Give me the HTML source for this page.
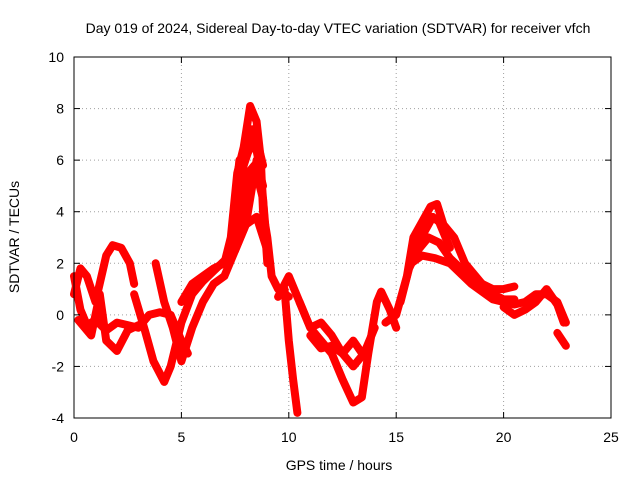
<!DOCTYPE html>
<html><head><meta charset="utf-8"><style>
body{margin:0;background:#fff;width:640px;height:480px;overflow:hidden;font-family:"Liberation Sans",sans-serif}
svg text{font-family:"Liberation Sans",sans-serif;font-size:14px;fill:#000}
</style></head><body>
<svg id="c" width="640" height="480">
<text x="338" y="33" text-anchor="middle">Day 019 of 2024, Sidereal Day-to-day VTEC variation (SDTVAR) for receiver vfch</text>
<text x="339" y="470" text-anchor="middle">GPS time / hours</text>
<text transform="translate(19,237) rotate(-90)" text-anchor="middle">SDTVAR / TECUs</text>
<g id="grid"></g><g id="marks"></g><g id="axes"></g>
</svg>
<script>
const xTicks=[0,5,10,15,20,25];
const yTicks=[-4,-2,0,2,4,6,8,10];
const trackA=[[0,0.8],[0.3,1.8],[0.6,1.5],[1,0.5],[1.5,2.3],[1.8,2.7],[2.2,2.6],[2.6,2],[2.8,1.2]];
const trackB=[[0,1.5],[0.3,0.2],[0.6,-0.4],[1,-0.2],[1.5,-0.6],[2,-0.3],[3,-0.5],[3.5,0],[4,0.1],[4.5,0],[5,-1],[5.3,-1.5]];
const trackC=[[0.2,-0.2],[0.8,-0.8],[1.2,0.8],[1.5,-1],[2,-1.4],[2.5,-0.6],[3,-0.4]];
const trackD=[[2.8,0.8],[3.3,-0.6],[3.7,-1.8],[4.2,-2.6],[4.5,-2],[5,-0.3],[5.5,0.8],[6,1.3],[6.5,1.7],[7,2.1],[7.5,2.5],[8,3.5],[8.5,3.8],[9,2.5]];
const trackE=[[3.8,2],[4.2,0.5],[4.6,-0.5],[5,-1.8],[5.5,-0.5],[6,0.5],[6.5,1.2],[7,1.5],[7.5,2.5],[8,3.5],[8.3,5],[8.5,6],[8.8,5]];
const trackF=[[5,0.5],[5.5,1.2],[6,1.5],[6.5,1.8],[7,2],[7.3,3],[7.6,5.5],[7.9,6.5],[8.2,8.1],[8.5,7.5],[8.7,6],[8.8,4],[9,3],[9.2,1.5],[9.5,1],[10,0.7]];
const trackG=[[7.5,2.5],[7.8,4],[8.1,5.5],[8.4,5.8],[8.8,4.5],[9,2]];
const trackG2=[[7.2,2.2],[7.6,4.5],[7.9,5.8],[8.1,6.3],[8.4,6.8],[8.7,5.5],[8.9,3.5]];
const trackG3=[[7.4,3.5],[7.7,6],[8,6.2],[8.3,7.2],[8.6,6.5],[8.8,5.8]];
const trackH=[[9.8,1],[10,-1],[10.2,-2.5],[10.4,-3.8]];
const trackI=[[9.5,0.7],[10,1.5],[10.4,0.7],[11,-0.5],[11.5,-0.3],[12,-0.8],[12.5,-1.5],[13,-2],[13.5,-1.5],[14,-0.5]];
const trackJ=[[10.5,0.5],[11,-0.5],[11.5,-1],[12,-1.5],[12.5,-2.5],[13,-3.4],[13.4,-3.2],[13.7,-1.5],[14.1,0.5],[14.3,0.9],[14.7,0.2],[15,-0.5]];
const trackK=[[11,-0.8],[11.5,-1.3],[12,-1.2],[12.5,-1.5],[13,-1],[13.5,-1.6]];
const trackL=[[14.5,-0.3],[15,0],[15.5,1.5],[15.8,3],[16.2,3.6],[16.6,4.2],[16.9,4.3],[17.2,3.5],[17.7,3],[18.2,2],[19,1.2],[19.5,0.8],[20,0.6],[20.5,0.6]];
const trackL2=[[15.9,2.5],[16.3,3.2],[16.7,3.8],[17,3.6],[17.5,2.6]];
const trackM=[[15.2,0.5],[15.6,1.8],[16,2.5],[16.5,3],[17,2.8],[17.5,2.2],[18,1.8],[18.5,1.5],[19,1.2],[19.5,1],[20,1],[20.5,1.1]];
const trackN=[[15.7,2],[16.2,2.3],[16.8,2.2],[17.5,2],[18.5,1.2],[19.5,0.6],[20,0.5],[20.5,0.4],[21,0.5],[21.5,0.8],[22,0.8],[22.5,0.5],[22.9,-0.3]];
const trackO=[[20,0.3],[20.5,0],[21,0.2],[21.5,0.5],[22,1],[22.5,0.4],[22.8,-0.3]];
const trackP=[[22.5,-0.7],[22.9,-1.2]];
const tracks=[trackA,trackB,trackC,trackD,trackE,trackF,trackG,trackG2,trackG3,trackH,trackI,trackJ,trackK,trackL,trackL2,trackM,trackN,trackO,trackP];
const L=74,R=611,T=57,B=418;
const sx=v=>L+(v-0)/25*(R-L);
const sy=v=>B-(v+4)/14*(B-T);
const NS="http://www.w3.org/2000/svg";
const grid=document.getElementById('grid'),axes=document.getElementById('axes'),marks=document.getElementById('marks');
function mk(tag,attrs,parent){const e=document.createElementNS(NS,tag);for(const k in attrs)e.setAttribute(k,attrs[k]);parent.appendChild(e);return e;}
xTicks.forEach(t=>{
 if(t>0&&t<25){const g=mk('line',{x1:sx(t),x2:sx(t),y1:T,y2:B,stroke:'#a0a0a0','stroke-dasharray':'1,3'},grid);
 
 }
 const tk=mk('text',{x:sx(t),y:B+24,'text-anchor':'middle'},axes);tk.textContent=t;
 
 
 mk('line',{x1:sx(t),x2:sx(t),y1:B,y2:B-6,stroke:'#000'},axes);
 mk('line',{x1:sx(t),x2:sx(t),y1:T,y2:T+6,stroke:'#000'},axes);
});
yTicks.forEach(t=>{
 if(t>-4&&t<10){const g=mk('line',{x1:L,x2:R,y1:sy(t),y2:sy(t),stroke:'#a0a0a0','stroke-dasharray':'1,3'},grid);
 
 }
 const tk=mk('text',{x:L-10,y:sy(t)+5,'text-anchor':'end'},axes);tk.textContent=t;
 
 
 mk('line',{x1:L,x2:L+6,y1:sy(t),y2:sy(t),stroke:'#000'},axes);
 mk('line',{x1:R,x2:R-6,y1:sy(t),y2:sy(t),stroke:'#000'},axes);
});
const fr=mk('rect',{x:L,y:T,width:R-L,height:B-T,fill:'none',stroke:'#000'},axes);


tracks.forEach(tr=>{
 const p=mk('polyline',{points:tr.map(d=>sx(d[0])+','+sy(d[1])).join(' '),fill:'none',stroke:'#f00','stroke-width':8,'stroke-linejoin':'round','stroke-linecap':'round'},marks);
 
 
});
</script>
</body></html>
